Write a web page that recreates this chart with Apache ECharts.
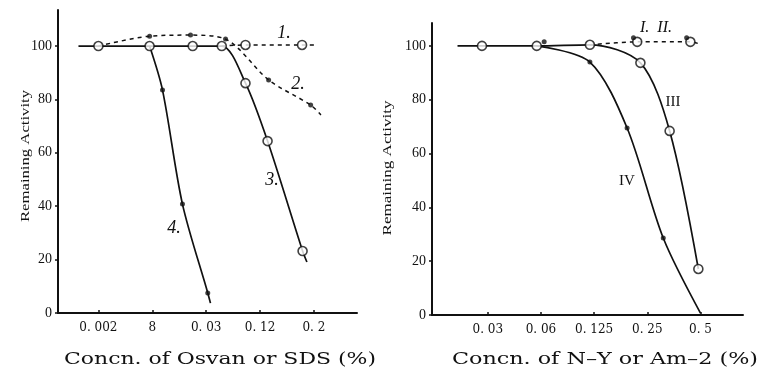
<!DOCTYPE html>
<html><head><meta charset="utf-8">
<script src="https://cdn.jsdelivr.net/npm/echarts@6/dist/echarts.min.js"></script>
<style>html,body{margin:0;padding:0;background:#fff}#c{width:761px;height:373px}</style>
</head><body><div id="c"></div>
<script>
// ---------- data (x = position of the concentration on the ordinal scale, tick k at k) ----------
const leftTickLabels = ['0. 002', '8', '0. 03', '0. 12', '0. 2'];
const rightTickLabels = ['0. 03', '0. 06', '0. 125', '0. 25', '0. 5'];
const tickPositions = [1, 2, 3, 4, 5];
const yTickValues = [0, 20, 40, 60, 80, 100];
const leftXTitle = 'Concn. of Osvan or SDS (%)';
const rightXTitle = 'Concn. of N\u2013Y or Am\u20132 (%)';
const yTitle = 'Remaining Activity';

// Left panel (Osvan / SDS)
const curve1Head = [3.29, 100];
const curve1Points = [[3.73, 100.4], [4.78, 100.4]];
const curve1Tail = [5.04, 100.4];
const curve2Points = [[1, 100], [1.95, 103.7], [2.71, 104.1], [3.36, 102.6], [4.16, 87.3], [4.94, 77.9]];
const curve2Tail = [5.13, 74.2];
const curve3Head = [0.63, 100];
const curve3Points = [[1, 100], [1.95, 100], [2.75, 100], [3.29, 100], [3.73, 86.1], [4.14, 64.4], [4.79, 23.2]];
const curve3Tail = [4.87, 19.1];
const curve4Head = [1.95, 100];
const curve4Points = [[2.19, 83.5], [2.56, 40.8], [3.03, 7.5]];
const curve4Tail = [3.08, 3.7];

// Right panel (N-Y / Am-2)
const curveIHead = [2.92, 100.4];
const curveIPoints = [[3.81, 101.5], [4.81, 101.5]];
const curveITail = [5.0, 100.6];
const curveIIPoints = [[2.06, 101.5], [3.74, 103], [4.74, 103]];
const curveIIIHead = [0.43, 100];
const curveIIIPoints = [[0.89, 100], [1.92, 100], [2.92, 100.4], [3.87, 93.7], [4.42, 68.4], [4.96, 17.1]];
const curveIVHead = [1.92, 100];
const curveIVPoints = [[2.92, 94], [3.62, 69.5], [4.30, 28.6]];
const curveIVTail = [5.0, 0.7];

// ---------- chart ----------
const chart = echarts.init(document.getElementById('c'), null, {renderer: 'canvas'});
const BLACK = '#111';

function measure(text, font) {
  const ctx = document.createElement('canvas').getContext('2d');
  ctx.font = font;
  return ctx.measureText(text).width;
}

function xAxis(gi, min, max, labels) {
  return {
    gridIndex: gi, type: 'value', min: min, max: max,
    axisLine: {show: true, onZero: false, lineStyle: {color: BLACK, width: 2}},
    splitLine: {show: false},
    axisTick: {show: true, inside: true, length: 3, customValues: tickPositions, lineStyle: {color: BLACK, width: 1.5}},
    axisLabel: {customValues: tickPositions, formatter: v => labels[Math.round(v) - 1] || '',
      fontFamily: 'DejaVu Serif', fontSize: 12, color: BLACK, margin: 9}
  };
}
function yAxis(gi, max) {
  return {
    gridIndex: gi, type: 'value', min: 0, max: max,
    axisLine: {show: true, onZero: false, lineStyle: {color: BLACK, width: 2}},
    splitLine: {show: false},
    axisTick: {show: true, length: 3, customValues: yTickValues, lineStyle: {color: BLACK, width: 1.5}},
    axisLabel: {customValues: yTickValues, fontFamily: 'Liberation Serif', fontSize: 14, color: BLACK, margin: 6}
  };
}
function line(gi, pts, dashed) {
  return {
    type: 'line', xAxisIndex: gi, yAxisIndex: gi, data: pts, showSymbol: false, symbol: 'none',
    smooth: 0.3, z: dashed ? 2 : 3, silent: true,
    lineStyle: {color: BLACK, width: dashed ? 1.5 : 1.7, type: dashed ? [4, 4] : 'solid'}
  };
}
function marks(gi, pts, open) {
  return {
    type: 'scatter', xAxisIndex: gi, yAxisIndex: gi, data: pts, symbol: 'circle',
    symbolSize: open ? 9 : 5, z: open ? 5 : 6, silent: true,
    itemStyle: open ? {color: '#fff', borderColor: BLACK, borderWidth: 1.6} : {color: BLACK}
  };
}

const series = [
  line(0, [curve1Head, ...curve1Points, curve1Tail], true),
  line(0, [...curve2Points, curve2Tail], true),
  line(0, [curve3Head, ...curve3Points, curve3Tail], false),
  line(0, [curve4Head, ...curve4Points, curve4Tail], false),
  marks(0, curve1Points, true),
  marks(0, curve3Points, true),
  marks(0, curve2Points.slice(1), false),
  marks(0, curve4Points, false),

  line(1, [curveIHead, ...curveIPoints, curveITail], true),
  line(1, [curveIIIHead, ...curveIIIPoints], false),
  line(1, [curveIVHead, ...curveIVPoints, curveIVTail], false),
  marks(1, curveIPoints, true),
  marks(1, curveIIIPoints, true),
  marks(1, curveIIPoints, false),
  marks(1, curveIVPoints, false)
];

function hText(text, cx, cy, size, width, family) {
  const font = size + 'px ' + family;
  const w = measure(text, font);
  return {type: 'text', x: cx, y: cy, scaleX: width / w, silent: true,
    style: {text: text, x: 0, y: 0, font: font, fill: BLACK, align: 'center', verticalAlign: 'middle'}};
}
function vText(text, cx, cy, size, length, family) {
  const t = hText(text, cx, cy, size, length, family);
  t.rotation = Math.PI / 2;
  return t;
}
function note(text, x, y, size, italic) {
  return {type: 'text', x: x, y: y, silent: true,
    style: {text: text, x: 0, y: 0, font: (italic ? 'italic ' : '') + size + 'px "Liberation Serif"', fill: BLACK,
      align: 'center', verticalAlign: 'middle'}};
}

chart.setOption({
  animation: false,
  backgroundColor: '#fff',
  grid: [
    {left: 58, top: 10, width: 299, height: 303},
    {left: 432, top: 23, width: 311, height: 292}
  ],
  xAxis: [xAxis(0, 0.25, 5.8, leftTickLabels), xAxis(1, -0.05, 5.8, rightTickLabels)],
  yAxis: [yAxis(0, 113.5), yAxis(1, 108.5)],
  series: series,
  graphic: [
    hText(leftXTitle, 220, 360, 16, 312, '"DejaVu Serif"'),
    hText(rightXTitle, 605, 360, 16, 306, '"DejaVu Serif"'),
    vText(yTitle, 26, 156, 13, 132, '"Liberation Serif"'),
    vText(yTitle, 388, 168, 13, 135, '"Liberation Serif"'),
    note('1.', 284, 33, 18, true),
    note('2.', 298, 84, 18, true),
    note('3.', 272, 180, 18, true),
    note('4.', 174, 228, 18, true),
    note('I.  II.', 656, 28, 16, true),
    note('III', 673, 102, 15, false),
    note('IV', 627, 181, 15, false)
  ]
});
</script>
</body></html>
